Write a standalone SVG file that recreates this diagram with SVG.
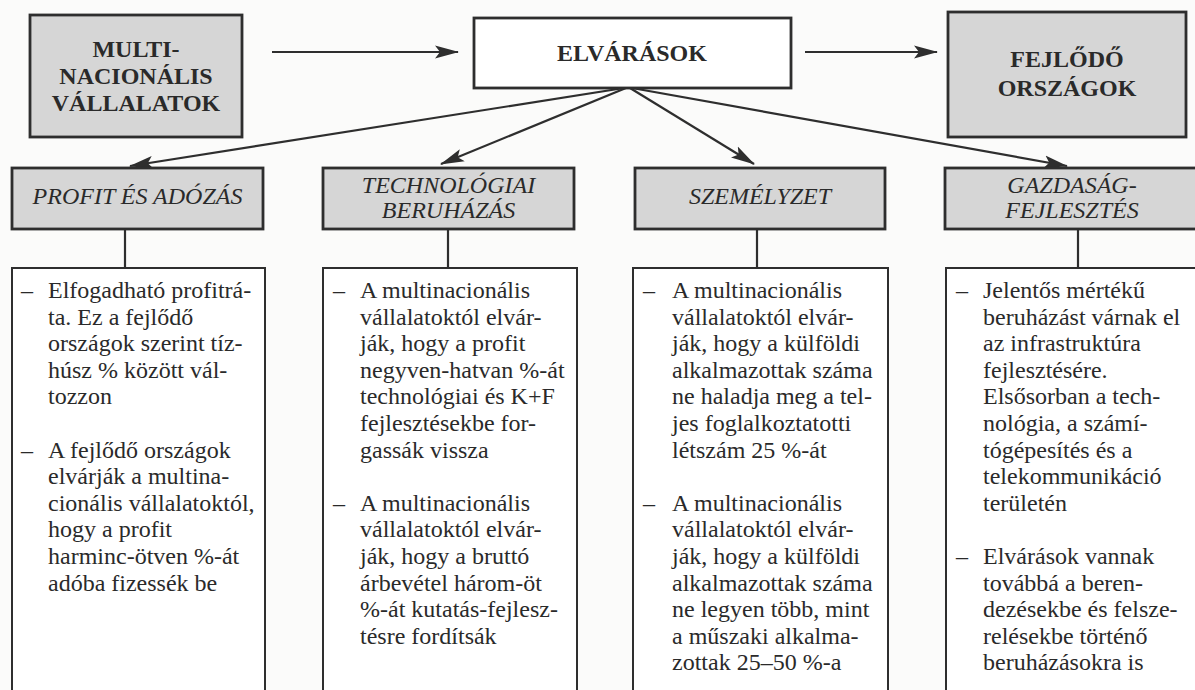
<svg xmlns="http://www.w3.org/2000/svg" width="1195" height="690" viewBox="0 0 1195 690">
<style>
.bg{fill:#fbfbfa}
.hbox{fill:#d6d6d6;stroke:#2e2e2e;stroke-width:2.8}
.wbox{fill:#ffffff;stroke:#2e2e2e;stroke-width:2.8}
.cbox{fill:#ffffff;stroke:#2e2e2e;stroke-width:2}
.ht{font-family:"Liberation Serif","Times New Roman",serif;font-weight:bold;font-size:24px;fill:#2a2a2a;text-anchor:middle}
.ct{font-family:"Liberation Serif","Times New Roman",serif;font-style:italic;font-size:24px;fill:#2a2a2a;text-anchor:middle}
.bt{font-family:"Liberation Serif","Times New Roman",serif;font-size:24px;fill:#2a2a2a}
.ln{stroke:#2e2e2e;stroke-width:2.2;fill:none}
</style>
<defs>
<marker id="ah" markerUnits="userSpaceOnUse" markerWidth="26" markerHeight="14" refX="23" refY="7" orient="auto">
<path d="M0,0.5 L24,7 L0,13.5 L5,7 z" fill="#2e2e2e"/>
</marker>
</defs>
<rect class="bg" x="0" y="0" width="1195" height="690"/>

<g id="connectors">
<line class="ln" x1="272" y1="52" x2="458" y2="52" marker-end="url(#ah)"/>
<line class="ln" x1="805" y1="52" x2="937" y2="52" marker-end="url(#ah)"/>
<line class="ln" x1="624" y1="88" x2="130" y2="166" marker-end="url(#ah)"/>
<line class="ln" x1="626" y1="88" x2="441" y2="164" marker-end="url(#ah)"/>
<line class="ln" x1="630" y1="88" x2="754" y2="164" marker-end="url(#ah)"/>
<line class="ln" x1="632" y1="88" x2="1067" y2="166" marker-end="url(#ah)"/>
<line class="ln" x1="125" y1="229" x2="125" y2="268"/>
<line class="ln" x1="448" y1="229" x2="448" y2="268"/>
<line class="ln" x1="757" y1="229" x2="757" y2="268"/>
<line class="ln" x1="1078" y1="229" x2="1078" y2="268"/>
</g>

<g id="multinacionalis">
<rect class="hbox" x="30" y="15" width="212" height="122"/>
<text class="ht"><tspan x="136" y="57">MULTI-</tspan><tspan x="136" y="84">NACIONÁLIS</tspan><tspan x="136" y="111">VÁLLALATOK</tspan></text>
</g>

<g id="elvarasok">
<rect class="wbox" x="474" y="18" width="317" height="70"/>
<text class="ht" x="632" y="61">ELVÁRÁSOK</text>
</g>

<g id="fejlodo">
<rect class="hbox" x="948" y="12" width="238" height="125"/>
<text class="ht"><tspan x="1067" y="67">FEJLŐDŐ</tspan><tspan x="1067" y="96">ORSZÁGOK</tspan></text>
</g>

<g id="profit">
<rect class="hbox" x="12" y="168" width="251" height="61"/>
<text class="ct" x="137.5" y="204">PROFIT ÉS ADÓZÁS</text>
</g>

<g id="technologiai">
<rect class="hbox" x="323" y="168" width="251" height="61"/>
<text class="ct"><tspan x="448.5" y="193">TECHNOLÓGIAI</tspan><tspan x="448.5" y="218">BERUHÁZÁS</tspan></text>
</g>

<g id="szemelyzet">
<rect class="hbox" x="635" y="168" width="250" height="61"/>
<text class="ct" x="760" y="204">SZEMÉLYZET</text>
</g>

<g id="gazdasag">
<rect class="hbox" x="945" y="168" width="256" height="61"/>
<text class="ct"><tspan x="1072" y="193">GAZDASÁG-</tspan><tspan x="1072" y="218">FEJLESZTÉS</tspan></text>
</g>

<g id="col1">
<rect class="cbox" x="12" y="268" width="253" height="440"/>
<text class="bt">
<tspan x="21" y="298">–</tspan><tspan x="48" y="298">Elfogadható profitrá-</tspan>
<tspan x="48" y="324.6">ta. Ez a fejlődő</tspan>
<tspan x="48" y="351.2">országok szerint tíz-</tspan>
<tspan x="48" y="377.8">húsz % között vál-</tspan>
<tspan x="48" y="404.4">tozzon</tspan>
<tspan x="21" y="457.6">–</tspan><tspan x="48" y="457.6">A fejlődő országok</tspan>
<tspan x="48" y="484.2">elvárják a multina-</tspan>
<tspan x="48" y="510.8">cionális vállalatoktól,</tspan>
<tspan x="48" y="537.4">hogy a profit</tspan>
<tspan x="48" y="564">harminc-ötven %-át</tspan>
<tspan x="48" y="590.6">adóba fizessék be</tspan>
</text>
</g>

<g id="col2">
<rect class="cbox" x="323" y="268" width="254" height="440"/>
<text class="bt">
<tspan x="333" y="298">–</tspan><tspan x="360" y="298">A multinacionális</tspan>
<tspan x="360" y="324.6">vállalatoktól elvár-</tspan>
<tspan x="360" y="351.2">ják, hogy a profit</tspan>
<tspan x="360" y="377.8">negyven-hatvan %-át</tspan>
<tspan x="360" y="404.4">technológiai és K+F</tspan>
<tspan x="360" y="431">fejlesztésekbe for-</tspan>
<tspan x="360" y="457.6">gassák vissza</tspan>
<tspan x="333" y="510.8">–</tspan><tspan x="360" y="510.8">A multinacionális</tspan>
<tspan x="360" y="537.4">vállalatoktól elvár-</tspan>
<tspan x="360" y="564">ják, hogy a bruttó</tspan>
<tspan x="360" y="590.6">árbevétel három-öt</tspan>
<tspan x="360" y="617.2">%-át kutatás-fejlesz-</tspan>
<tspan x="360" y="643.8">tésre fordítsák</tspan>
</text>
</g>

<g id="col3">
<rect class="cbox" x="633" y="268" width="255" height="440"/>
<text class="bt">
<tspan x="643" y="298">–</tspan><tspan x="672" y="298">A multinacionális</tspan>
<tspan x="672" y="324.6">vállalatoktól elvár-</tspan>
<tspan x="672" y="351.2">ják, hogy a külföldi</tspan>
<tspan x="672" y="377.8">alkalmazottak száma</tspan>
<tspan x="672" y="404.4">ne haladja meg a tel-</tspan>
<tspan x="672" y="431">jes foglalkoztatotti</tspan>
<tspan x="672" y="457.6">létszám 25 %-át</tspan>
<tspan x="643" y="510.8">–</tspan><tspan x="672" y="510.8">A multinacionális</tspan>
<tspan x="672" y="537.4">vállalatoktól elvár-</tspan>
<tspan x="672" y="564">ják, hogy a külföldi</tspan>
<tspan x="672" y="590.6">alkalmazottak száma</tspan>
<tspan x="672" y="617.2">ne legyen több, mint</tspan>
<tspan x="672" y="643.8">a műszaki alkalma-</tspan>
<tspan x="672" y="670.4">zottak 25–50 %-a</tspan>
</text>
</g>

<g id="col4">
<rect class="cbox" x="946" y="268" width="260" height="440"/>
<text class="bt">
<tspan x="956" y="298">–</tspan><tspan x="983" y="298">Jelentős mértékű</tspan>
<tspan x="983" y="324.6">beruházást várnak el</tspan>
<tspan x="983" y="351.2">az infrastruktúra</tspan>
<tspan x="983" y="377.8">fejlesztésére.</tspan>
<tspan x="983" y="404.4">Elsősorban a tech-</tspan>
<tspan x="983" y="431">nológia, a számí-</tspan>
<tspan x="983" y="457.6">tógépesítés és a</tspan>
<tspan x="983" y="484.2">telekommunikáció</tspan>
<tspan x="983" y="510.8">területén</tspan>
<tspan x="956" y="564">–</tspan><tspan x="983" y="564">Elvárások vannak</tspan>
<tspan x="983" y="590.6">továbbá a beren-</tspan>
<tspan x="983" y="617.2">dezésekbe és felsze-</tspan>
<tspan x="983" y="643.8">relésekbe történő</tspan>
<tspan x="983" y="670.4">beruházásokra is</tspan>
</text>
</g>
</svg>
